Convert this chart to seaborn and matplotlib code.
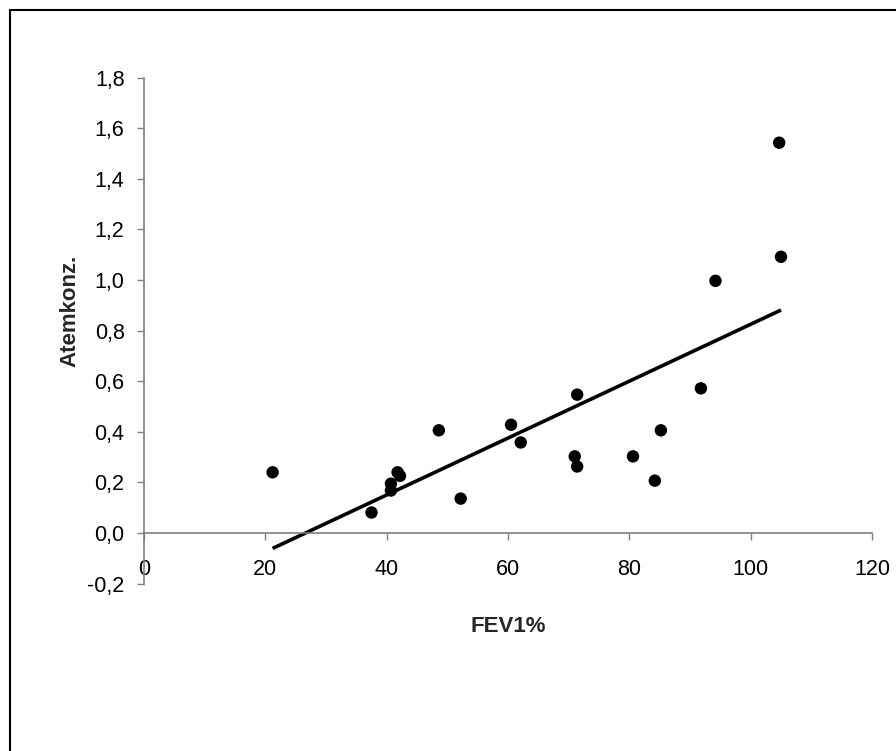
import matplotlib
matplotlib.use("Agg")
import matplotlib.pyplot as plt
import matplotlib.ticker as mticker
from matplotlib.patches import Rectangle
import seaborn as sns
import pandas as pd

fev1 = [21.2, 37.5, 40.7, 40.7, 41.8, 42.2, 48.6, 52.2, 60.5, 62.1,
        71.4, 71.0, 71.4, 80.6, 84.2, 85.2, 91.8, 94.2, 104.7, 105.0]
atemkonz = [0.240, 0.081, 0.195, 0.168, 0.240, 0.226, 0.406, 0.136, 0.428, 0.358,
            0.547, 0.303, 0.263, 0.303, 0.207, 0.406, 0.572, 0.997, 1.543, 1.092]
x_ticks = [0, 20, 40, 60, 80, 100, 120]
y_ticks = [-0.2, 0.0, 0.2, 0.4, 0.6, 0.8, 1.0, 1.2, 1.4, 1.6, 1.8]
x_label = "FEV1%"
y_label = "Atemkonz."

df = pd.DataFrame({"FEV1%": fev1, "Atemkonz.": atemkonz})

sns.set_style("white")
plt.rcParams["font.family"] = ["Liberation Sans", "DejaVu Sans"]

W, H = 896, 751
fig = plt.figure(figsize=(W / 100, H / 100), dpi=100)
ax = fig.add_axes([144 / W, 1 - 583.6 / H, (872 - 144) / W, (583.6 - 77.7) / H])

sns.regplot(data=df, x="FEV1%", y="Atemkonz.", ax=ax, scatter=False, ci=None,
            truncate=True, line_kws=dict(color="black", lw=2.6, solid_capstyle="butt"))
sns.scatterplot(data=df, x="FEV1%", y="Atemkonz.", ax=ax, color="black", s=80,
                edgecolor="none", zorder=3)

ax.set_xlim(0, 120)
ax.set_ylim(-0.2, 1.8)
ax.set_xticks(x_ticks)
ax.set_yticks(y_ticks)
fmt = mticker.FuncFormatter(lambda v, p: f"{v:.1f}".replace(".", ","))
ax.yaxis.set_major_formatter(fmt)
ax.xaxis.set_major_formatter(mticker.FuncFormatter(lambda v, p: f"{int(round(v))}"))

for s in ["top", "right"]:
    ax.spines[s].set_visible(False)
ax.spines["bottom"].set_position(("data", 0))
ax.spines["left"].set_position(("data", 0))
for s in ["bottom", "left"]:
    ax.spines[s].set_color("#808080")
    ax.spines[s].set_linewidth(1.2)

ax.tick_params(axis="x", direction="out", length=5, width=1, color="#808080",
               pad=14, labelsize=15.5, labelcolor="black", bottom=True)
ax.tick_params(axis="y", direction="out", length=5, width=1, color="#808080",
               pad=9, labelsize=15.5, labelcolor="black", left=True)
ax.set_xlabel("")
ax.set_ylabel("")
ax.patch.set_alpha(0)

fig.text(508 / W, 1 - 626 / H, x_label, ha="center", va="center",
         fontsize=16, fontweight="bold")
fig.text(70 / W, 1 - 311 / H, y_label, ha="center", va="center",
         fontsize=16, fontweight="bold", rotation=90)

fig.patches.append(Rectangle((10 / W, -0.1), 1.2, 1 - 10 / H + 0.1,
                             transform=fig.transFigure, fill=False,
                             edgecolor="black", lw=1.5, clip_on=False))

fig.savefig("out.png", dpi=100)
